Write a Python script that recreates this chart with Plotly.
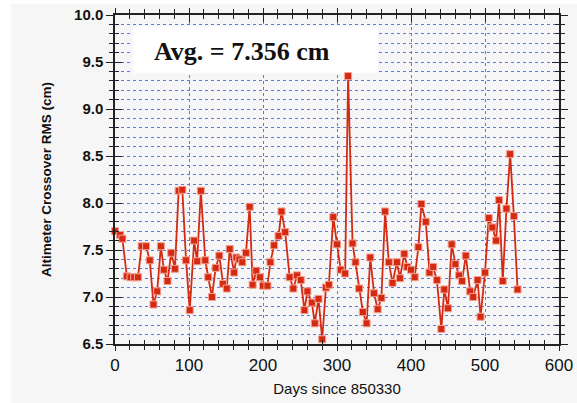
import plotly.graph_objects as go

days = [0, 7, 10, 16, 21, 26, 31, 36, 42, 47, 52, 57, 62, 66, 71, 76, 81, 86, 91, 96,
        101, 107, 111, 116, 122, 126, 131, 136, 141, 146, 151, 155, 161, 164, 168, 172, 177,
        182, 186, 191, 196, 200, 206, 210, 215, 221, 225, 230, 236, 241, 246, 251, 256,
        260, 266, 270, 275, 280, 285, 289, 295, 300, 305, 311, 315, 321, 325, 330, 335,
        340, 345, 350, 355, 360, 365, 370, 375, 381, 385, 391, 395, 400, 405, 410, 414,
        420, 425, 430, 435, 441, 445, 450, 455, 460, 465, 469, 474, 480, 484, 490, 494,
        500, 505, 510, 515, 519, 524, 529, 534, 539, 544]
rms = [7.70, 7.66, 7.62, 7.22, 7.21, 7.21, 7.21, 7.54, 7.54, 7.39, 6.92, 7.06, 7.54, 7.29,
       7.17, 7.47, 7.30, 8.13, 8.14, 7.39, 6.86, 7.60, 7.38, 8.13, 7.39, 7.21, 7.00, 7.31,
       7.44, 7.14, 7.09, 7.51, 7.26, 7.42, 7.40, 7.37, 7.47, 7.96, 7.13, 7.28, 7.21, 7.12,
       7.12, 7.37, 7.55, 7.65, 7.91, 7.69, 7.21, 7.09, 7.23, 7.18, 6.86, 7.06, 6.94, 6.72,
       6.98, 6.55, 7.10, 7.13, 7.85, 7.56, 7.29, 7.25, 9.35, 7.57, 7.37, 7.09, 6.84, 6.72,
       7.42, 7.04, 6.87, 6.99, 7.91, 7.37, 7.15, 7.37, 7.20, 7.46, 7.32, 7.29, 7.21, 7.53,
       7.99, 7.80, 7.26, 7.32, 7.18, 6.66, 7.08, 6.88, 7.56, 7.35, 7.23, 7.17, 7.44, 7.06,
       7.00, 7.18, 6.79, 7.26, 7.84, 7.74, 7.60, 8.03, 7.17, 7.94, 8.52, 7.86, 7.08]

avg_text = "Avg. = 7.356 cm"
x_title = "Days since 850330"
y_title = "Altimeter Crossover RMS (cm)"
x_range = [0, 600]
y_range = [6.5, 10.0]

fig = go.Figure()
fig.add_trace(go.Scatter(
    x=days, y=rms, mode="lines+markers",
    line=dict(color="#d42a12", width=1.8),
    marker=dict(symbol="square", size=7, color="#d42a12",
                line=dict(color="#f4a090", width=1)),
    showlegend=False, cliponaxis=False))
fig.add_trace(go.Scatter(x=[None], y=[None], xaxis="x2", yaxis="y2", showlegend=False))

grid = "#5a78e8"
bg = "#f6f6f6"
common_x = dict(range=x_range, showline=True, linecolor="#222", linewidth=1.5,
                dtick=100, tick0=0, tickwidth=1.2, tickcolor="#222",
                mirror="allticks", zeroline=False, automargin=False)
common_y = dict(range=y_range, showline=True, linecolor="#222", linewidth=1.5,
                dtick=0.5, tick0=6.5, ticklen=7, tickwidth=1.2, tickcolor="#222",
                mirror="allticks", zeroline=False, automargin=False)

fig.update_layout(
    width=577, height=403,
    margin=dict(l=115, r=18, t=15, b=59),
    paper_bgcolor="white", plot_bgcolor=bg,
    xaxis=dict(**common_x, ticks="outside", ticklen=5,
               showgrid=True, gridcolor=grid, griddash="dot", gridwidth=1,
               minor=dict(dtick=20, ticks="outside", ticklen=4, tickcolor="#222", showgrid=False),
               tickfont=dict(family="Liberation Sans, Arial", size=17, color="#111"),
               title=dict(text=x_title, font=dict(family="Liberation Sans, Arial", size=15, color="#111"),
                          standoff=9)),
    yaxis=dict(**common_y, ticks="outside", tickformat=".1f",
               showgrid=True, gridcolor=grid, griddash="dot", gridwidth=1,
               minor=dict(dtick=0.1, ticks="outside", ticklen=4, tickcolor="#222",
                          showgrid=True, gridcolor=grid, griddash="dot", gridwidth=1),
               tickfont=dict(family="Liberation Sans, Arial", size=15, color="#111", weight="bold"),
               title=dict(text=y_title, font=dict(family="Liberation Sans, Arial", size=13.5, color="#111",
                                                 weight="bold"), standoff=19)),
    xaxis2=dict(**common_x, ticklen=7, overlaying="x", ticks="inside", showticklabels=False, showgrid=False,
                minor=dict(dtick=20, ticks="inside", ticklen=4, tickcolor="#222")),
    yaxis2=dict(**common_y, overlaying="y", ticks="inside", showticklabels=False, showgrid=False,
                minor=dict(dtick=0.1, ticks="inside", ticklen=4, tickcolor="#222")),
)

# light grey canvas with thin white border at left and top
fig.add_shape(type="rect", xref="paper", yref="paper", x0=-0.2342, x1=1.2, y0=-0.3, y1=1.0334,
              fillcolor=bg, line=dict(width=0), layer="below")
fig.add_shape(type="rect", xref="x", yref="y", x0=24.5, x1=355, y0=9.38, y1=9.875,
              fillcolor="white", line=dict(width=0), layer="between")
fig.add_annotation(x=172, y=9.607, xref="x", yref="y", text=avg_text, showarrow=False,
                   font=dict(family="Liberation Serif, Times New Roman", size=26, color="#111",
                             weight="bold"))

fig.write_html("out.html")
